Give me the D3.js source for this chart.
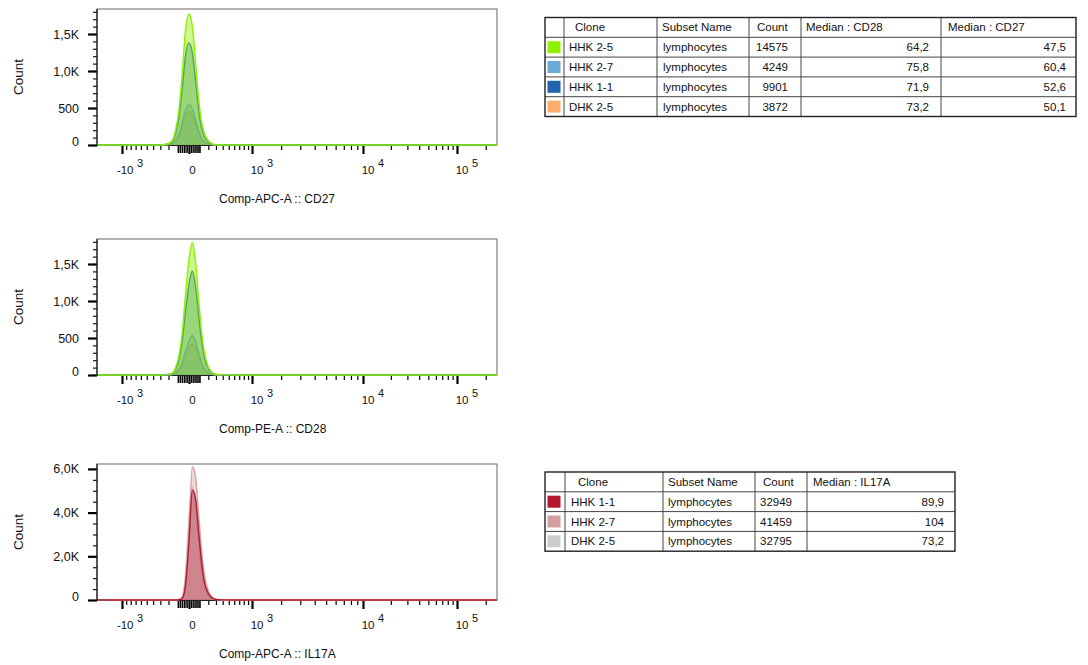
<!DOCTYPE html>
<html>
<head>
<meta charset="utf-8">
<script src="https://cdn.jsdelivr.net/npm/d3@7"></script>
<style>
  body { margin: 0; background: #fff; }
  svg { display: block; font-family: "Liberation Sans", Arial, Helvetica, sans-serif; }
</style>
</head>
<body>
<svg id="chart" width="1088" height="665"></svg>
<script>
// ---------------- DATA ----------------
// histogram bin centres (channel values) shared by all three histograms
const binCenters = [-300, -200, -150, -120, -90, -60, -30, 0, 30, 60, 90, 120, 150, 200, 250, 300, 400, 600];

// Comp-APC-A :: CD27 histogram counts
const cd27_HHK25 = [0, 20, 80, 220, 470, 950, 1540, 1770, 1600, 1130, 650, 330, 170, 60, 18, 4, 0, 0];
const cd27_HHK11 = [0, 14, 60, 170, 370, 740, 1200, 1380, 1250, 880, 500, 250, 125, 45, 13, 3, 0, 0];
const cd27_HHK27 = [0, 6, 24, 66, 145, 290, 470, 540, 490, 345, 195, 98, 50, 18, 5, 1, 0, 0];
const cd27_DHK25 = [0, 5, 20, 55, 120, 240, 390, 450, 410, 290, 165, 82, 42, 15, 4, 1, 0, 0];

// Comp-PE-A :: CD28 histogram counts
const cd28_HHK25 = [0, 8, 35, 110, 260, 560, 1080, 1560, 1795, 1530, 1060, 620, 330, 110, 35, 10, 2, 0];
const cd28_HHK11 = [0, 6, 27, 86, 205, 440, 850, 1225, 1405, 1200, 830, 487, 260, 86, 27, 8, 1, 0];
const cd28_HHK27 = [0, 2, 10, 32, 77, 166, 320, 462, 530, 452, 313, 184, 98, 32, 10, 3, 0, 0];
const cd28_DHK25 = [0, 2, 8, 25, 61, 131, 252, 365, 418, 357, 247, 145, 77, 26, 8, 2, 0, 0];

// Comp-APC-A :: IL17A histogram counts
const il17_HHK11 = [0, 0, 0, 2, 12, 70, 650, 2700, 5030, 4650, 3200, 1850, 900, 300, 90, 25, 4, 0];
const il17_HHK27 = [0, 0, 1, 4, 20, 110, 900, 3300, 6100, 5650, 4000, 2400, 1250, 420, 130, 40, 6, 0];
const il17_DHK25 = [0, 0, 1, 5, 25, 150, 1200, 3900, 5200, 4350, 2800, 1500, 700, 220, 60, 15, 2, 0];

// axes
const xDomain = [-1760, 262144];
const xMajorTicks = [-1000, 0, 1000, 10000, 100000];
const xMinorTicks = [
  -900, -800, -700, -600, -500, -400, -300, -200,
  200, 300, 400, 500, 600, 700, 800, 900,
  2000, 3000, 4000, 5000, 6000, 7000, 8000, 9000,
  20000, 30000, 40000, 50000, 60000, 70000, 80000, 90000, 200000
];
const xNearZeroTicks = [-100, -80, -60, -40, -20, 20, 40, 60, 80, 100];
const yTicksCD = [0, 500, 1000, 1500];
const yMinorCD = [0, 100, 200, 300, 400, 500, 600, 700, 800, 900, 1000, 1100, 1200, 1300, 1400, 1500, 1600, 1700, 1800];
const yMaxCD = 1838;
const yTicksIL = [0, 2000, 4000, 6000];
const yMinorIL = [0, 500, 1000, 1500, 2000, 2500, 3000, 3500, 4000, 4500, 5000, 5500, 6000];
const yMaxIL = 6225;

// tables
const tableHeader1 = ["Clone", "Subset Name", "Count", "Median : CD28", "Median : CD27"];
const table1Clones = ["HHK 2-5", "HHK 2-7", "HHK 1-1", "DHK 2-5"];
const table1Subset = ["lymphocytes", "lymphocytes", "lymphocytes", "lymphocytes"];
const table1Count = [14575, 4249, 9901, 3872];
const table1MedianCD28 = [64.2, 75.8, 71.9, 73.2];
const table1MedianCD27 = [47.5, 60.4, 52.6, 50.1];

const tableHeader2 = ["Clone", "Subset Name", "Count", "Median : IL17A"];
const table2Clones = ["HHK 1-1", "HHK 2-7", "DHK 2-5"];
const table2Subset = ["lymphocytes", "lymphocytes", "lymphocytes"];
const table2Count = [32949, 41459, 32795];
const table2MedianIL17A = [89.9, 104, 73.2];

// ---------------- STYLES ----------------
const colorsCD = { "HHK 2-5": "#8ff000", "HHK 2-7": "#6aaad6", "HHK 1-1": "#2264ae", "DHK 2-5": "#fdad6a" };
const colorsIL = { "HHK 1-1": "#b3182c", "HHK 2-7": "#d4a09f", "DHK 2-5": "#cccccc" };

// ---------------- DRAW ----------------
const svg = d3.select("#chart");
svg.append("rect").attr("width", 1088).attr("height", 665).attr("fill", "#fff");

const xScale = d3.scaleSymlog().constant(500)
  .domain([-1000, 0, 1000, 10000, 100000])
  .range([122, 189, 252, 363, 457]);

const fmtY = d => d === 0 ? "0" : (d >= 1000 ? d3.format(".1f")(d / 1000).replace(".", ",") + "K" : String(d));

const charts = [
  { id: "c1", top: 9, bottom: 145, yMax: yMaxCD, yTicks: yTicksCD, yMinor: yMinorCD, title: "Comp-APC-A :: CD27",
    colors: colorsCD,
    series: [["DHK 2-5", cd27_DHK25], ["HHK 2-7", cd27_HHK27], ["HHK 1-1", cd27_HHK11], ["HHK 2-5", cd27_HHK25]] },
  { id: "c2", top: 239, bottom: 375, yMax: yMaxCD, yTicks: yTicksCD, yMinor: yMinorCD, title: "Comp-PE-A :: CD28",
    colors: colorsCD,
    series: [["DHK 2-5", cd28_DHK25], ["HHK 2-7", cd28_HHK27], ["HHK 1-1", cd28_HHK11], ["HHK 2-5", cd28_HHK25]] },
  { id: "c3", top: 464, bottom: 600, yMax: yMaxIL, yTicks: yTicksIL, yMinor: yMinorIL, title: "Comp-APC-A :: IL17A",
    colors: colorsIL,
    series: [["DHK 2-5", il17_DHK25], ["HHK 2-7", il17_HHK27], ["HHK 1-1", il17_HHK11]] }
];

const xL = xScale(xDomain[0]), xR = xScale(xDomain[1]);

charts.forEach(c => {
  const y = d3.scaleLinear().domain([0, c.yMax]).range([c.bottom, c.top]);
  const g = svg.append("g");

  svg.append("clipPath").attr("id", "clip-" + c.id)
    .append("rect").attr("x", xL).attr("y", c.top).attr("width", xR - xL).attr("height", c.bottom - c.top + 2);

  // frame
  g.append("rect").attr("x", xL).attr("y", c.top).attr("width", xR - xL).attr("height", c.bottom - c.top)
    .attr("fill", "none").attr("stroke", "#666").attr("stroke-width", 1);
  g.append("line").attr("x1", xL).attr("x2", xR).attr("y1", c.bottom + 0.5).attr("y2", c.bottom + 0.5)
    .attr("stroke", "#222").attr("stroke-width", 1.2);

  // histograms
  const area = d3.area()
    .x(d => xScale(d[0])).y0(y(0)).y1(d => y(d[1]))
    .curve(d3.curveMonotoneX);
  const line = d3.line()
    .x(d => xScale(d[0])).y(d => y(d[1]))
    .curve(d3.curveMonotoneX);
  const hg = g.append("g").attr("clip-path", "url(#clip-" + c.id + ")");
  c.series.forEach(([name, vals]) => {
    const pts = [[xDomain[0], 0]].concat(binCenters.map((b, i) => [b, vals[i]])).concat([[xDomain[1], 0]]);
    hg.append("path").datum(pts).attr("d", area)
      .attr("fill", c.colors[name]).attr("fill-opacity", name === "HHK 2-5" ? 0.45 : 0.4);
    hg.append("path").datum(pts).attr("d", line)
      .attr("fill", "none").attr("stroke", c.colors[name]).attr("stroke-width", 1.4);
  });

  // y axis (minor + major)
  const yMinorAxis = g.append("g").attr("transform", `translate(${xL},0)`)
    .call(d3.axisLeft(y).tickValues(c.yMinor).tickSize(4).tickFormat(""));
  yMinorAxis.select(".domain").remove();
  yMinorAxis.selectAll("line").attr("stroke", "#111").attr("stroke-width", 1.2);

  const yAxis = g.append("g").attr("transform", `translate(${xL},0)`)
    .call(d3.axisLeft(y).tickValues(c.yTicks).tickSize(9).tickPadding(9).tickFormat(fmtY));
  yAxis.select(".domain").remove();
  yAxis.selectAll("line").attr("stroke", "#000").attr("stroke-width", 2.2);
  yAxis.selectAll("text").attr("font-size", 12.5).attr("fill", "#111")
    .attr("font-family", "'Liberation Sans', Arial, sans-serif")
    .attr("dy", d => d === 0 ? "0.05em" : "0.32em");
  g.append("line").attr("x1", xL).attr("x2", xL).attr("y1", c.top).attr("y2", c.bottom + 1)
    .attr("stroke", "#222").attr("stroke-width", 1.3);

  // x axis ticks
  const xMinorAxis = g.append("g").attr("transform", `translate(0,${c.bottom + 1})`)
    .call(d3.axisBottom(xScale).tickValues(xMinorTicks).tickSize(4).tickFormat(""));
  xMinorAxis.select(".domain").remove();
  xMinorAxis.selectAll("line").attr("stroke", "#000").attr("stroke-width", 1.2);
  const xZeroAxis = g.append("g").attr("transform", `translate(0,${c.bottom + 1})`)
    .call(d3.axisBottom(xScale).tickValues(xNearZeroTicks).tickSize(7).tickFormat(""));
  xZeroAxis.select(".domain").remove();
  xZeroAxis.selectAll("line").attr("stroke", "#000").attr("stroke-width", 1.6);
  const xMajorAxis = g.append("g").attr("transform", `translate(0,${c.bottom + 1})`)
    .call(d3.axisBottom(xScale).tickValues(xMajorTicks).tickSize(8).tickFormat(""));
  xMajorAxis.select(".domain").remove();
  xMajorAxis.selectAll("line").attr("stroke", "#000").attr("stroke-width", 2.2);

  // x labels with superscript exponents
  const lab = g.append("g").attr("font-size", 11.5).attr("fill", "#111");
  xMajorTicks.forEach(v => {
    const px = xScale(v);
    if (v === 0) {
      lab.append("text").attr("x", px + 3.5).attr("y", c.bottom + 29).attr("text-anchor", "middle").text("0");
    } else {
      const exp = Math.round(Math.log10(Math.abs(v)));
      lab.append("text").attr("x", px + 11.5).attr("y", c.bottom + 29).attr("text-anchor", "end")
        .text((v < 0 ? "-" : "") + "10");
      lab.append("text").attr("x", px + 15).attr("y", c.bottom + 22).attr("text-anchor", "start")
        .attr("font-size", 11).text(String(exp));
    }
  });

  // titles
  g.append("text").attr("x", 219).attr("y", c.bottom + 58).attr("font-size", 12).attr("fill", "#111").text(c.title);
  g.append("text").attr("transform", `translate(23,${(c.top + c.bottom) / 2}) rotate(-90)`)
    .attr("text-anchor", "middle").attr("font-size", 13.5).attr("fill", "#111").text("Count");
});

// ---------------- TABLES ----------------
const fmtMed = v => d3.format(".3~r")(v).replace(".", ",");

function drawTable(opts) {
  const { x: colEdges, top, rowH, header, headerPad, rows, colors, aligns, pads } = opts;
  const g = svg.append("g").attr("font-size", 11.5).attr("fill", "#111");
  const nRows = rows.length + 1;
  const bottom = top + nRows * rowH;
  for (let i = 1; i < nRows; i++) {
    g.append("line").attr("x1", colEdges[0]).attr("x2", colEdges[colEdges.length - 1])
      .attr("y1", top + i * rowH).attr("y2", top + i * rowH).attr("stroke", "#444").attr("stroke-width", 1);
  }
  for (let j = 1; j < colEdges.length - 1; j++) {
    g.append("line").attr("x1", colEdges[j]).attr("x2", colEdges[j])
      .attr("y1", top).attr("y2", bottom).attr("stroke", "#444").attr("stroke-width", 1);
  }
  g.append("rect").attr("x", colEdges[0]).attr("y", top)
    .attr("width", colEdges[colEdges.length - 1] - colEdges[0]).attr("height", bottom - top)
    .attr("fill", "none").attr("stroke", "#222").attr("stroke-width", 1.4);
  header.forEach((h, j) => {
    g.append("text").attr("x", colEdges[j + 1] + headerPad[j]).attr("y", top + rowH / 2)
      .attr("dy", "0.35em").text(h);
  });
  rows.forEach((r, i) => {
    const cy = top + (i + 1) * rowH + rowH / 2;
    g.append("rect").attr("x", colEdges[0] + 2.5).attr("y", cy - 6).attr("width", 13).attr("height", 12)
      .attr("fill", colors[r[0]]);
    r.forEach((cell, j) => {
      const a = aligns[j];
      const tx = a === "end" ? colEdges[j + 2] - pads[j] : colEdges[j + 1] + pads[j];
      g.append("text").attr("x", tx).attr("y", cy).attr("dy", "0.35em").attr("text-anchor", a).text(cell);
    });
  });
}

drawTable({
  x: [545, 564, 657, 749, 801, 941, 1076],
  top: 17.5, rowH: 19.8,
  header: tableHeader1,
  headerPad: [11, 5, 8, 5, 7],
  rows: table1Clones.map((c, i) => [c, table1Subset[i], String(table1Count[i]), fmtMed(table1MedianCD28[i]), fmtMed(table1MedianCD27[i])]),
  colors: colorsCD,
  aligns: ["start", "start", "end", "end", "end"],
  pads: [5, 6, 13, 12, 10]
});

drawTable({
  x: [545, 565, 663, 755, 807, 955],
  top: 472, rowH: 19.8,
  header: tableHeader2,
  headerPad: [13, 5, 8, 6],
  rows: table2Clones.map((c, i) => [c, table2Subset[i], String(table2Count[i]), fmtMed(table2MedianIL17A[i])]),
  colors: colorsIL,
  aligns: ["start", "start", "end", "end"],
  pads: [6, 5, 15, 11]
});
</script>
</body>
</html>
